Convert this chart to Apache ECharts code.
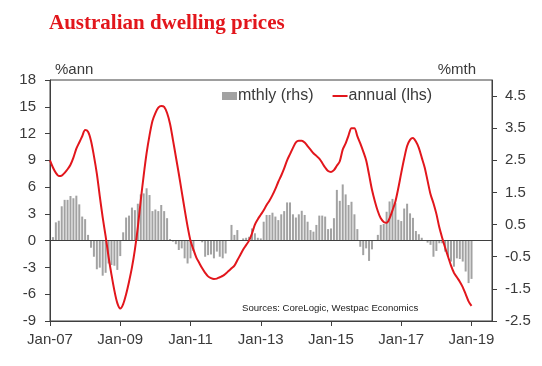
<!DOCTYPE html>
<html>
<head>
<meta charset="utf-8">
<script src="https://cdn.jsdelivr.net/npm/echarts@6/dist/echarts.min.js"></script>
<style>
html,body{margin:0;padding:0;background:#fff;}
#chart{width:542px;height:366px;}
</style>
</head>
<body>
<div id="chart"></div>
<script>
// ---- data ----
const monthNames = ['Jan','Feb','Mar','Apr','May','Jun','Jul','Aug','Sep','Oct','Nov','Dec'];
const yearLabels = ['07','08','09','10','11','12','13','14','15','16','17','18','19'];
const lastCategory = 'Aug-19';

// monthly % change (rhs), Jan-07 .. Jan-19
const mthly = [
  null, 0.11, 0.57, 0.62, 1.07, 1.27, 1.27, 1.39, 1.32, 1.40, 1.13, 0.75,
  0.67, 0.18, -0.22, -0.50, -0.89, -0.84, -1.09, -1.00, -0.71, -0.76, -0.78, -0.91,
  -0.48, 0.26, 0.72, 0.78, 1.03, 0.95, 1.15, 1.44, 1.47, 1.63, 1.42, 0.92,
  0.97, 0.92, 1.11, 0.92, 0.70, 0.05, -0.03, -0.11, -0.29, -0.24, -0.55, -0.71,
  -0.55, -0.32, 0.02, 0.00, -0.05, -0.50, -0.45, -0.43, -0.55, -0.34, -0.50, -0.55,
  -0.40, 0.00, 0.49, 0.18, 0.33, 0.00, 0.07, 0.09, 0.12, 0.38, 0.23, 0.09,
  0.07, 0.59, 0.80, 0.80, 0.87, 0.75, 0.64, 0.82, 0.92, 1.19, 1.19, 0.82,
  0.72, 0.82, 0.93, 0.80, 0.59, 0.33, 0.28, 0.49, 0.78, 0.78, 0.75, 0.36,
  0.38, 0.70, 1.58, 1.24, 1.75, 1.44, 1.11, 1.21, 0.82, 0.36, -0.19, -0.45,
  -0.24, -0.63, -0.27, 0.00, 0.18, 0.49, 0.52, 0.90, 1.22, 1.30, 1.17, 0.65,
  0.61, 1.00, 1.15, 0.85, 0.71, 0.30, 0.20, 0.09, 0.00, -0.06, -0.13, -0.50,
  -0.32, -0.08, -0.08, -0.34, -0.50, -0.65, -0.81, -0.55, -0.57, -0.65, -0.96, -1.32,
  -1.19
];

// annual % change (lhs), Jan-07 .. Jan-19
const annual = [
  9.0, 8.2, 7.6, 7.25, 7.3, 7.6, 8.0, 8.5, 9.3, 10.3, 11.0, 11.7,
  12.4, 12.2, 11.2, 9.5, 7.5, 5.0, 2.6, 0.5, -1.8, -3.8, -5.6, -7.0,
  -7.6, -7.1, -6.0, -4.6, -3.0, -1.0, 1.5, 4.5, 7.3, 9.8, 11.8, 13.4,
  14.3, 14.9, 15.1, 15.0, 14.3, 13.1, 11.3, 9.4, 7.5, 5.5, 3.5, 1.6,
  0.0, -1.0, -1.9, -2.5, -3.1, -3.6, -4.0, -4.2, -4.3, -4.25, -4.1, -3.95,
  -3.7, -3.4, -3.1, -2.8, -2.2, -1.6, -1.0, -0.5, 0.0, 0.8, 1.8, 2.4,
  2.9, 3.4, 4.0, 4.5, 5.1, 5.8, 6.6, 7.3, 8.1, 9.0, 9.7, 10.4,
  11.0, 11.2, 11.2, 11.0, 10.6, 10.2, 9.8, 9.5, 9.2, 8.7, 8.2, 7.8,
  7.7, 7.9, 8.4, 8.9, 10.2, 10.9, 11.8, 12.6, 12.6, 11.7, 10.9, 10.0,
  9.0, 7.4, 5.7, 4.4, 3.3, 2.5, 2.1, 2.0, 2.5, 3.4, 4.4, 5.9,
  7.6, 9.2, 10.6, 11.3, 11.5, 11.1, 10.4, 9.3, 8.2, 6.7, 5.2, 4.2,
  3.0, 1.5, 0.3, -0.8, -1.8, -2.8, -3.6, -4.1, -4.6, -5.2, -6.0, -6.8,
  -7.3
];

const leftTicks = [-9, -6, -3, 0, 3, 6, 9, 12, 15, 18];
const rightTicks = [-2.5, -1.5, -0.5, 0.5, 1.5, 2.5, 3.5, 4.5];
const seriesNames = ['mthly (rhs)', 'annual (lhs)'];
const titleText = 'Australian dwelling prices';
const leftUnit = '%ann';
const rightUnit = '%mth';
const sourceText = 'Sources: CoreLogic, Westpac Economics';

// ---- build categories ----
const categories = [];
outer:
for (const yy of yearLabels) {
  for (const mm of monthNames) {
    const c = mm + '-' + yy;
    categories.push(c);
    if (c === lastCategory) break outer;
  }
}

const RED = '#e2161c';
const AX = '#3f3f3f';
const TXT = '#3a3a3a';

const chart = echarts.init(document.getElementById('chart'));
chart.setOption({
  animation: false,
  backgroundColor: '#fff',
  title: {
    text: titleText,
    left: 49, top: 13, padding: 0,
    textStyle: { fontFamily: 'Liberation Serif', fontWeight: 'bold', fontSize: 21, color: RED }
  },
  legend: {
    left: 222, top: 88, padding: 0,
    itemGap: 19,
    itemWidth: 15, itemHeight: 8,
    textStyle: { fontFamily: 'Liberation Sans', fontSize: 16, color: TXT, padding: [0, 0, 0, -4] },
    data: [
      { name: seriesNames[0], icon: 'rect' },
      { name: seriesNames[1], icon: 'path://M0,0L15,0L15,2L0,2Z' }
    ]
  },
  grid: { left: 50, right: 50, top: 80, bottom: 45, show: true, borderColor: AX, borderWidth: 1 },
  xAxis: {
    type: 'category',
    data: categories,
    boundaryGap: false,
    axisLine: { onZero: false, lineStyle: { color: AX } },
    axisTick: { show: true, length: 5, interval: (i) => i % 24 === 0, lineStyle: { color: AX } },
    axisLabel: {
      interval: (i) => i % 24 === 0,
      margin: 11, fontFamily: 'Liberation Sans', fontSize: 15, color: TXT
    },
    splitLine: { show: false }
  },
  yAxis: [
    {
      type: 'value', position: 'left',
      min: leftTicks[0], max: leftTicks[leftTicks.length - 1], interval: 3,
      axisLine: { show: true, lineStyle: { color: AX } },
      axisTick: { show: true, length: 5, lineStyle: { color: AX } },
      axisLabel: { margin: 14, fontFamily: 'Liberation Sans', fontSize: 15, color: TXT },
      splitLine: { show: false }
    },
    {
      type: 'value', position: 'right',
      min: rightTicks[0], max: 5, interval: 1,
      axisLine: { show: true, lineStyle: { color: AX } },
      axisTick: { show: true, length: 5, lineStyle: { color: AX }, customValues: rightTicks },
      axisLabel: { margin: 13, fontFamily: 'Liberation Sans', fontSize: 15, color: TXT,
        customValues: rightTicks },
      splitLine: { show: false }
    }
  ],
  graphic: [
    { type: 'text', left: 55, top: 62, style: { text: leftUnit, font: '15px "Liberation Sans"', fill: TXT } },
    { type: 'text', right: 66, top: 62, style: { text: rightUnit, font: '15px "Liberation Sans"', fill: TXT } },
    { type: 'text', left: 242, top: 303, style: { text: sourceText, font: '9.6px "Liberation Sans"', fill: '#222' } }
  ],
  series: [
    {
      name: seriesNames[0], type: 'bar', yAxisIndex: 1,
      data: mthly, barWidth: 2,
      itemStyle: { color: '#a2a2a2' },
      z: 2
    },
    {
      name: seriesNames[1], type: 'line', yAxisIndex: 0,
      data: annual, symbol: 'none', smooth: 0.3,
      lineStyle: { color: RED, width: 2 },
      itemStyle: { color: RED },
      z: 4,
      markLine: {
        silent: true, symbol: 'none', label: { show: false },
        lineStyle: { color: AX, width: 1, type: 'solid' },
        data: [{ yAxis: 0 }],
        z: 3
      }
    }
  ]
});
</script>
</body>
</html>
